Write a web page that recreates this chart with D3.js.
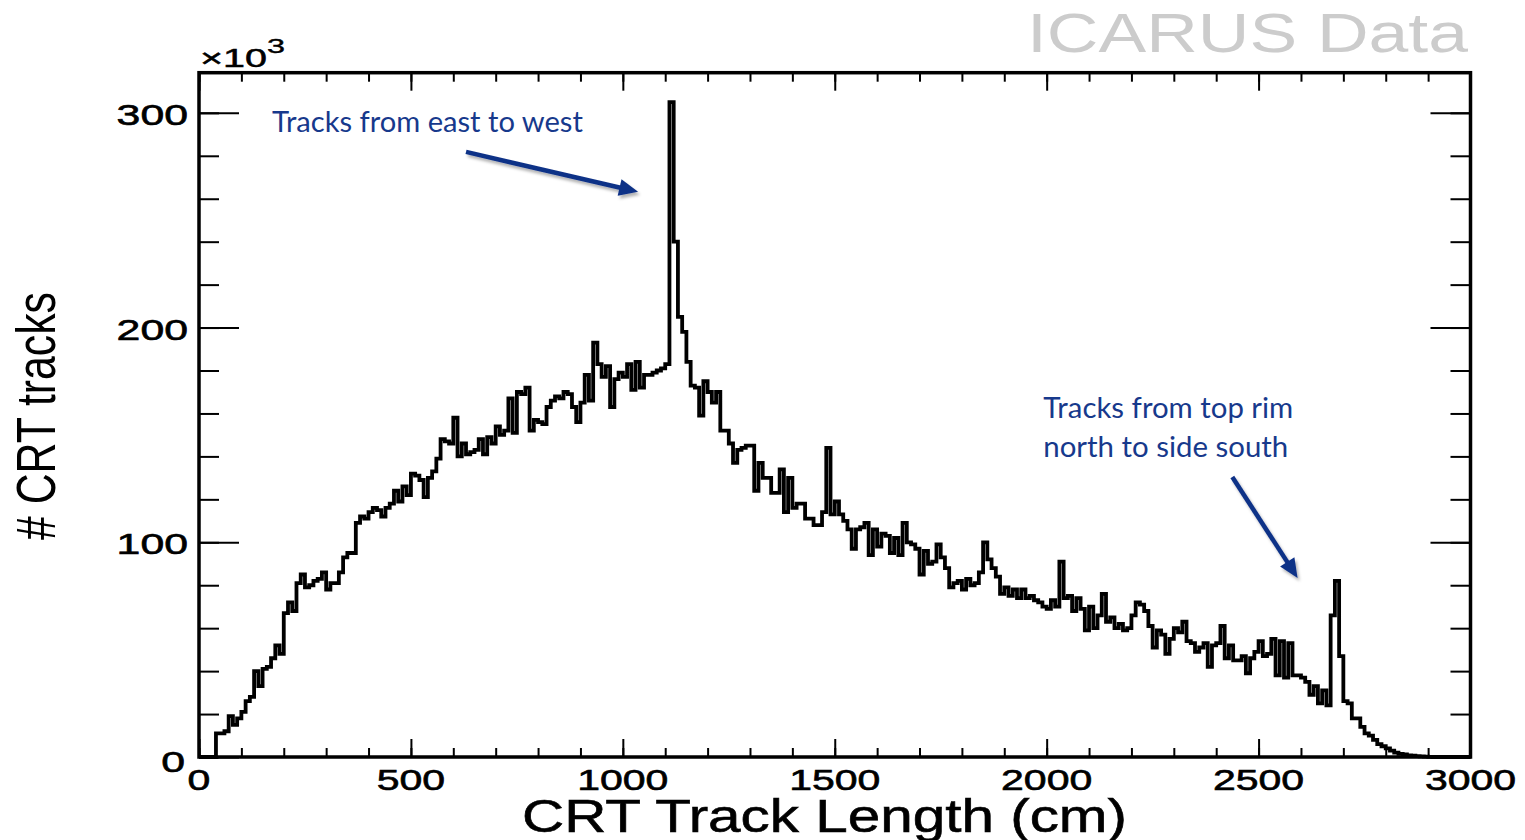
<!DOCTYPE html>
<html>
<head>
<meta charset="utf-8">
<script src="https://cdn.jsdelivr.net/npm/d3@7"></script>
<style>
html, body { margin:0; padding:0; background:#fff; }
svg { display:block; }
</style>
</head>
<body>
<svg width="1525" height="840"></svg>
<script>
// bins are 10 cm wide, counts are in thousands of tracks (x10^3)
const binWidth = 10;
const counts = [
  0, 0, 0, 0, 11, 11, 12, 19, 15, 18,
  21, 26, 28, 40, 33, 41, 42, 46, 52, 48,
  67, 72, 68, 81, 85, 79, 80, 82, 83, 86,
  78, 81, 81, 86, 93, 95, 95, 109, 112, 111,
  114, 116, 115, 112, 116, 118, 124, 119, 126, 122,
  132, 131, 129, 121, 130, 133, 139, 148, 147, 146,
  158, 140, 146, 141, 142, 143, 148, 141, 149, 146,
  154, 150, 152, 167, 151, 170, 169, 172, 152, 157,
  156, 155, 163, 166, 168, 167, 170, 169, 163, 156,
  165, 178, 166, 193, 183, 177, 182, 163, 176, 179,
  177, 183, 171, 184, 172, 178, 178, 179, 180, 181,
  183, 305, 240, 205, 198, 184, 173, 172, 159, 175,
  170, 165, 170, 152, 152, 146, 137, 143, 144, 145,
  145, 124, 137, 130, 130, 123, 123, 134, 114, 130,
  116, 118, 118, 111, 111, 108, 108, 114, 144, 113,
  119, 113, 110, 106, 97, 106, 107, 109, 94, 106,
  98, 104, 103, 95, 102, 94, 109, 100, 99, 97,
  85, 96, 90, 91, 99, 93, 88, 79, 81, 82,
  78, 83, 80, 81, 86, 100, 92, 88, 84, 76,
  79, 75, 78, 74, 78, 74, 75, 73, 72, 70,
  69, 73, 70, 91, 74, 75, 68, 74, 69, 59,
  70, 60, 66, 76, 63, 65, 60, 62, 59, 60,
  66, 72, 71, 68, 61, 51, 59, 57, 48, 55,
  60, 58, 63, 54, 53, 49, 51, 53, 42, 52,
  53, 61, 46, 52, 45, 45, 47, 39, 46, 49,
  54, 47, 48, 55, 38, 54, 37, 53, 38, 38,
  37, 35, 29, 33, 25, 31, 24, 66, 82, 47,
  26, 25, 18, 18, 14, 11, 10, 8, 6, 5,
  4, 3, 2, 1.5, 1.2, 0.8, 0.6, 0.4, 0.3, 0.2,
  0.1, 0, 0, 0, 0, 0, 0, 0, 0, 0
];

const xTickValues = [0, 500, 1000, 1500, 2000, 2500, 3000];
const xTickLabels = ['0', '500', '1000', '1500', '2000', '2500', '3000'];
const yTickValues = [0, 100, 200, 300];
const yTickLabels = ['0', '100', '200', '300'];

// annotations in data coordinates (cm, thousands)
const notes = [
  { lines: ['Tracks from east to west'], x: 172, y: 291.1, widths: [311],
    arrow: [[630, 281.8], [1036, 263.2]] },
  { lines: ['Tracks from top rim', 'north to side south'], x: 1992, y: 157.9, widths: [250, 245],
    arrow: [[2438, 130.4], [2592, 83.4]] }
];

const svg = d3.select('svg');
const plotL = 199, plotR = 1470.5, plotT = 72.7, plotB = 757;

const x = d3.scaleLinear().domain([0, 3000]).range([plotL, plotR]);
const y = d3.scaleLinear().domain([0, 318.7]).range([plotB, plotT]);

const defs = svg.append('defs');
defs.append('filter').attr('id', 'shadow')
  .attr('x', '-20%').attr('y', '-20%').attr('width', '140%').attr('height', '140%')
  .append('feDropShadow')
  .attr('dx', 2).attr('dy', 3).attr('stdDeviation', 1.5)
  .attr('flood-color', '#000').attr('flood-opacity', 0.3);

// ticks, all pointing inward like ROOT
function tickLayer(axis, tx, ty) {
  const g = svg.append('g').attr('transform', `translate(${tx},${ty})`).call(axis);
  g.select('.domain').remove();
  g.selectAll('.tick line').attr('stroke', '#000').attr('stroke-width', 2);
  g.selectAll('.tick text').remove();
  return g;
}
const xMinor = x.ticks(30), yMinor = y.ticks(16);
tickLayer(d3.axisBottom(x).tickValues(xMinor).tickSize(-9), 0, plotB);
tickLayer(d3.axisBottom(x).tickValues(xTickValues).tickSize(-18), 0, plotB);
tickLayer(d3.axisTop(x).tickValues(xMinor).tickSize(-9), 0, plotT);
tickLayer(d3.axisTop(x).tickValues(xTickValues).tickSize(-18), 0, plotT);
tickLayer(d3.axisLeft(y).tickValues(yMinor).tickSize(-20), plotL, 0);
tickLayer(d3.axisLeft(y).tickValues(yTickValues).tickSize(-40), plotL, 0);
tickLayer(d3.axisRight(y).tickValues(yMinor).tickSize(-20), plotR, 0);
tickLayer(d3.axisRight(y).tickValues(yTickValues).tickSize(-40), plotR, 0);

// histogram as a step outline
const pts = counts.map((v, i) => [i * binWidth, v]);
pts.push([counts.length * binWidth, counts[counts.length - 1]]);
const line = d3.line()
  .x(d => x(d[0]))
  .y(d => y(d[1]))
  .curve(d3.curveStepAfter);
svg.append('path')
  .datum(pts)
  .attr('d', line)
  .attr('fill', 'none')
  .attr('stroke', '#000')
  .attr('stroke-width', 3.8)
  .attr('stroke-linejoin', 'miter');

// frame
svg.append('rect')
  .attr('x', plotL).attr('y', plotT)
  .attr('width', plotR - plotL).attr('height', plotB - plotT)
  .attr('fill', 'none').attr('stroke', '#000').attr('stroke-width', 3.5);

// tick labels
const labelFont = "'Liberation Sans', Arial, Helvetica, sans-serif";
svg.append('g').selectAll('text')
  .data(xTickValues)
  .enter().append('text')
  .attr('x', d => x(d))
  .attr('y', 790)
  .attr('text-anchor', 'middle')
  .attr('font-family', labelFont)
  .attr('font-size', 30)
  .attr('stroke', '#000').attr('stroke-width', 0.6)
  .attr('textLength', (d, i) => xTickLabels[i].length * 22.8)
  .attr('lengthAdjust', 'spacingAndGlyphs')
  .text((d, i) => xTickLabels[i]);

svg.append('g').selectAll('text')
  .data(yTickValues)
  .enter().append('text')
  .attr('x', d => d === 0 ? 185 : 188)
  .attr('y', d => d === 0 ? y(d) + 15 : y(d) + 12)
  .attr('text-anchor', 'end')
  .attr('font-family', labelFont)
  .attr('font-size', 30)
  .attr('stroke', '#000').attr('stroke-width', 0.6)
  .attr('textLength', (d, i) => yTickLabels[i].length * 23.8)
  .attr('lengthAdjust', 'spacingAndGlyphs')
  .text((d, i) => yTickLabels[i]);

// x10^3 multiplier
svg.append('text')
  .attr('x', 200).attr('y', 67)
  .attr('font-family', labelFont).attr('font-size', 25)
  .attr('stroke', '#000').attr('stroke-width', 0.5)
  .attr('textLength', 67).attr('lengthAdjust', 'spacingAndGlyphs')
  .text('\u00d710');
svg.append('text')
  .attr('x', 267).attr('y', 53)
  .attr('font-family', labelFont).attr('font-size', 21)
  .attr('stroke', '#000').attr('stroke-width', 0.4)
  .attr('textLength', 18).attr('lengthAdjust', 'spacingAndGlyphs')
  .text('3');

// axis titles
svg.append('text')
  .attr('x', 824.5).attr('y', 832)
  .attr('text-anchor', 'middle')
  .attr('font-family', labelFont).attr('font-size', 47)
  .attr('stroke', '#000').attr('stroke-width', 0.6)
  .attr('textLength', 605).attr('lengthAdjust', 'spacingAndGlyphs')
  .text('CRT Track Length (cm)');

svg.append('text')
  .attr('transform', 'translate(55,416) rotate(-90)')
  .attr('text-anchor', 'middle')
  .attr('font-family', labelFont).attr('font-size', 56)
  .attr('textLength', 248).attr('lengthAdjust', 'spacingAndGlyphs')
  .text('# CRT tracks');

// ICARUS Data label
svg.append('text')
  .attr('x', 1027).attr('y', 52)
  .attr('font-family', labelFont).attr('font-size', 56)
  .attr('fill', '#cccccc')
  .attr('textLength', 441).attr('lengthAdjust', 'spacingAndGlyphs')
  .text('ICARUS Data');

// annotations
const noteColor = '#17398c', arrowColor = '#0d3087';
notes.forEach(n => {
  n.lines.forEach((t, i) => {
    svg.append('text')
      .attr('x', x(n.x))
      .attr('y', y(n.y) + i * 39)
      .attr('font-family', "Lato, 'Open Sans', sans-serif")
      .attr('font-size', 28)
      .attr('fill', noteColor)
      .attr('textLength', n.widths[i]).attr('lengthAdjust', 'spacingAndGlyphs')
      .text(t);
  });
  const [p0, p1] = n.arrow.map(p => [x(p[0]), y(p[1])]);
  const dx = p1[0] - p0[0], dy = p1[1] - p0[1];
  const len = Math.hypot(dx, dy), ux = dx / len, uy = dy / len;
  const headL = 19, headW = 8.5;
  const bx = p1[0] - ux * headL, by = p1[1] - uy * headL;
  const g = svg.append('g').attr('filter', 'url(#shadow)');
  g.append('line')
    .attr('x1', p0[0]).attr('y1', p0[1])
    .attr('x2', bx + ux * 2).attr('y2', by + uy * 2)
    .attr('stroke', arrowColor).attr('stroke-width', 4.5);
  g.append('polygon')
    .attr('points', [
      [p1[0], p1[1]],
      [bx - uy * headW, by + ux * headW],
      [bx + uy * headW, by - ux * headW]
    ].map(p => p.join(',')).join(' '))
    .attr('fill', arrowColor);
});
</script>
</body>
</html>
